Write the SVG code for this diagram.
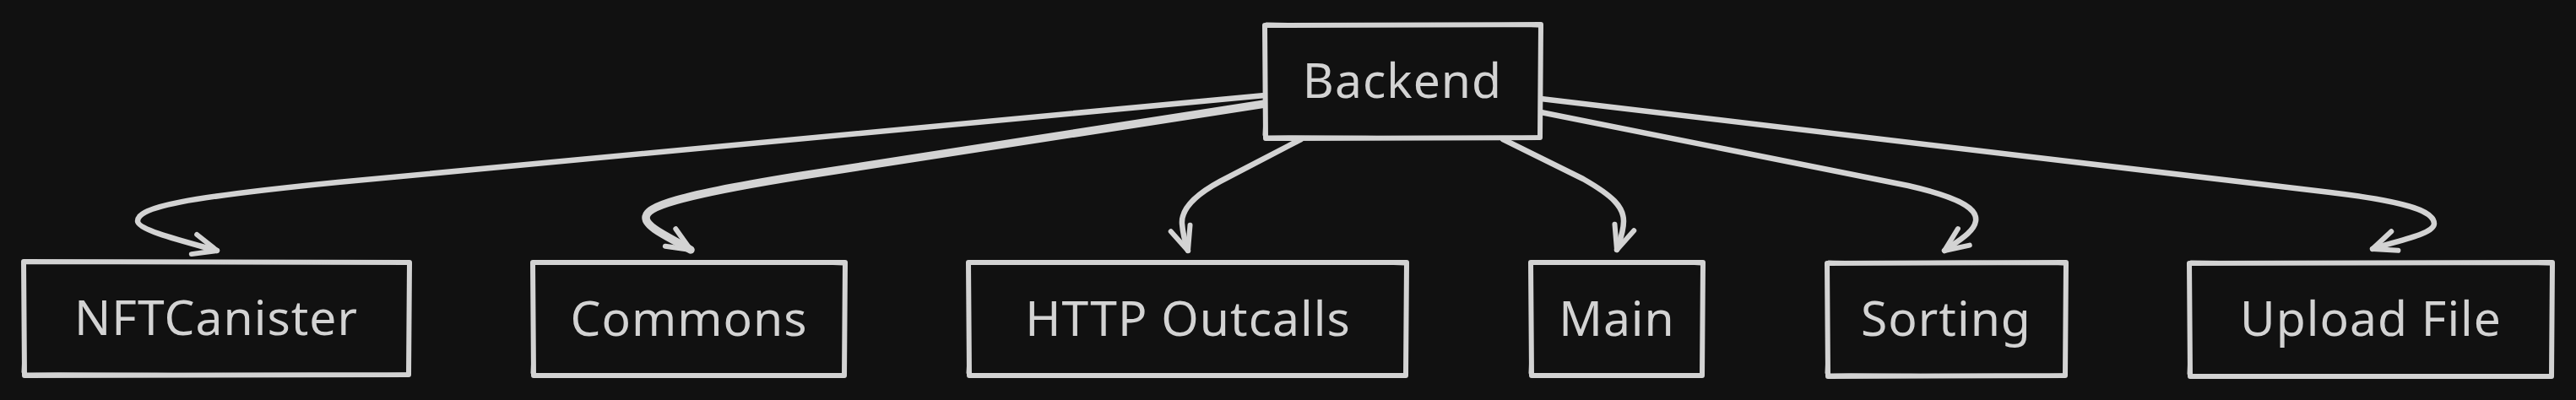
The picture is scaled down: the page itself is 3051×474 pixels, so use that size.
<svg xmlns="http://www.w3.org/2000/svg" width="3051" height="474" viewBox="0 0 3051 474">
  <defs>
    <style>
      .bg { fill: #111111; }
      .box { fill: #111111; stroke: #d3d3d3; stroke-width: 6; stroke-linejoin: round; stroke-linecap: round; }
      .box2 { fill: none; stroke: #d3d3d3; stroke-width: 3; stroke-linejoin: round; stroke-linecap: round; }
      .label { fill: #d3d3d3; font-family: "Noto Sans", "Open Sans", "DejaVu Sans", sans-serif; font-size: 57px; text-anchor: middle; letter-spacing: 1px; }
      .edge { fill: none; stroke: #d3d3d3; stroke-width: 6.5; stroke-linecap: round; stroke-linejoin: round; marker-end: url(#arrow); }
      .thick { stroke-width: 9.5; }
    </style>
    <marker id="arrow" markerUnits="userSpaceOnUse" viewBox="-34 -17 40 34" refX="0" refY="0" markerWidth="40" markerHeight="34" orient="auto" overflow="visible">
      <path d="M-28,-12 L0,0 L-28,12" fill="none" stroke="#d3d3d3" stroke-width="6" stroke-linecap="round" stroke-linejoin="round"/>
    </marker>
  </defs>
  <rect class="bg" x="0" y="0" width="3051" height="474"/>

  <g id="connectors">
    <path id="e-nft" class="edge" d="M1498,113 L400,216 C220,234 163,245 163,262 C163,272 210,284 257,297"/>
    <path id="e-commons" class="edge thick" d="M1498,123 L950,208 C800,232 765,245 765,258 C765,270 795,282 818,296"/>
    <path id="e-http" class="edge" d="M1541,165 L1445,215 C1410,234 1399,250 1400,265 C1401,278 1404,288 1407,297"/>
    <path id="e-main" class="edge" d="M1780,165 L1875,212 C1910,232 1923,245 1923,262 C1923,275 1918,287 1915,296"/>
    <path id="e-sorting" class="edge" d="M1825,133 L2260,220 C2330,236 2342,250 2340,262 C2338,275 2320,285 2303,297"/>
    <path id="e-upload" class="edge" d="M1825,117 L2760,228 C2860,240 2883,252 2883,265 C2883,278 2835,286 2810,295"/>
  </g>

  <g id="node-backend">
    <path class="box" d="M1498,30 L1825,29 L1824,163 L1499,164 Z"/>
    <path class="box2" d="M1500,28 C1600,31 1720,27 1823,31 M1826,32 C1823,80 1827,120 1825,161 M1822,162 C1720,165 1600,161 1500,162 M1497,160 C1500,110 1496,70 1499,31"/>
    <text class="label" x="1661" y="116">Backend</text>
  </g>

  <g id="node-nftcanister">
    <path class="box" d="M28,310 L485,311 L484,444 L29,445 Z"/>
    <path class="box2" d="M30,309 C150,312 350,308 483,312 M486,313 C483,360 487,400 485,442 M482,443 C350,446 150,442 30,443 M27,441 C30,390 26,350 29,312"/>
    <text class="label" x="256" y="397">NFTCanister</text>
  </g>

  <g id="node-commons">
    <path class="box" d="M631,311 L1001,311 L1000,445 L632,445 Z"/>
    <path class="box2" d="M633,310 C750,313 900,309 999,313 M1002,314 C999,360 1003,400 1001,443 M998,444 C900,447 750,443 633,444 M630,442 C633,390 629,350 632,313"/>
    <text class="label" x="816" y="398">Commons</text>
  </g>

  <g id="node-http">
    <path class="box" d="M1147,311 L1666,311 L1665,445 L1148,445 Z"/>
    <path class="box2" d="M1149,310 C1300,313 1500,309 1664,313 M1667,314 C1664,360 1668,400 1666,443 M1663,444 C1500,447 1300,443 1149,444 M1146,442 C1150,390 1145,350 1148,313"/>
    <text class="label" x="1407" y="398">HTTP Outcalls</text>
  </g>

  <g id="node-main">
    <path class="box" d="M1813,311 L2017,311 L2016,445 L1814,445 Z"/>
    <path class="box2" d="M1815,310 C1880,313 1950,309 2015,313 M2018,314 C2015,360 2019,400 2017,443 M2014,444 C1950,447 1880,443 1815,444 M1812,442 C1815,390 1811,350 1814,313"/>
    <text class="label" x="1915" y="398">Main</text>
  </g>

  <g id="node-sorting">
    <path class="box" d="M2164,312 L2447,311 L2446,445 L2165,446 Z"/>
    <path class="box2" d="M2166,310 C2250,313 2350,307 2445,313 M2448,314 C2445,360 2449,400 2447,443 M2444,444 C2350,447 2250,443 2166,444 M2163,442 C2166,390 2162,350 2165,313"/>
    <text class="label" x="2305" y="398">Sorting</text>
  </g>

  <g id="node-upload">
    <path class="box" d="M2593,312 L3023,311 L3022,446 L2594,446 Z"/>
    <path class="box2" d="M2595,310 C2750,313 2900,309 3021,313 M3024,314 C3021,360 3025,400 3023,444 M3020,445 C2900,448 2750,444 2595,445 M2592,443 C2595,390 2591,350 2594,314"/>
    <text class="label" x="2808" y="398">Upload File</text>
  </g>
</svg>
